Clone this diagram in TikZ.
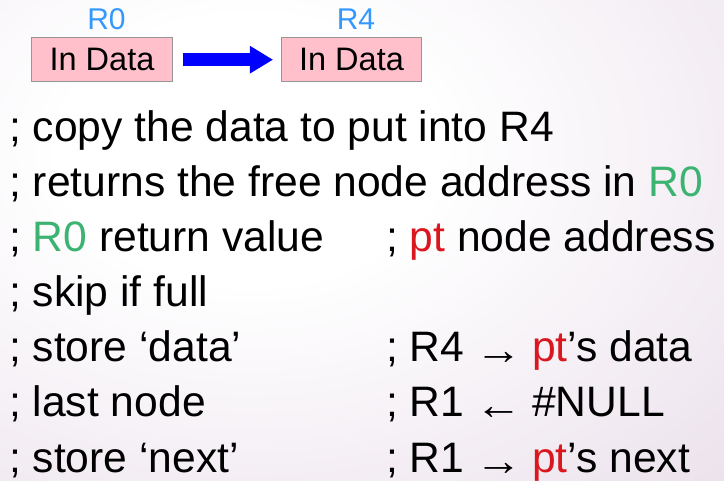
\documentclass[tikz,border=0pt]{standalone}
\usepackage{fontspec}
\setmainfont{Liberation Sans}
\usetikzlibrary{arrows.meta}
\definecolor{bgout}{RGB}{214,194,216}
\definecolor{lblue}{RGB}{51,153,255}
\definecolor{rgreen}{RGB}{60,179,113}
\definecolor{ptred}{RGB}{218,22,30}
\definecolor{boxpink}{RGB}{255,192,203}
\definecolor{boxedge}{RGB}{150,150,150}
\pgfdeclareradialshading{bgshade}{\pgfpoint{0bp}{0bp}}{color(0bp)=(white); color(4bp)=(white); color(25bp)=(bgout); color(50bp)=(bgout)}
\newcommand{\sarr}[1]{\hspace{11pt}\smash{\raisebox{-3pt}{\scalebox{1.1}[1]{#1}}}\hspace{10pt}}
\newcommand{\gR}{\textcolor{rgreen}{R0}}
\newcommand{\rpt}{\textcolor{ptred}{pt}}
\begin{document}
\begin{tikzpicture}[x=1pt,y=-1pt,
  codeline/.style={anchor=base west, inner sep=0pt, font=\fontsize{42.6}{50}\selectfont},
  databox/.style={draw=boxedge, line width=1pt, fill=boxpink, minimum width=140.5pt, minimum height=44pt, inner sep=0pt, font=\fontsize{32.5}{36}\selectfont},
  reglabel/.style={text=lblue, font=\fontsize{30}{32}\selectfont, inner sep=0pt, anchor=base},
  bigarrow/.style={draw={rgb,255:red,0;green,0;blue,255}, line width=13pt, -{Triangle[length=23pt,width=28pt,line width=0pt 0]}, shorten <=10.7pt, shorten >=8pt}]
\useasboundingbox (0,0) rectangle (724,481);
\begin{scope}
\clip (0,0) rectangle (724,481);
\shade[shading=bgshade] (250,150) ellipse (1200pt and 840pt);
\end{scope}
% top diagram
\node[databox] (b0) at (102,59.7) {In Data};
\node[databox] (b4) at (351.5,59.7) {In Data};
\node[reglabel] (l0) at (106.5,29.3) {R0};
\node[reglabel] (l4) at (356,29.3) {R4};
\draw[bigarrow] (b0) -- (b4);
% code lines
\node[codeline] (c1) at (9,141.5) {; copy the data to put into R4};
\node[codeline] (c2) at (9,196.6) {; returns the free node address in \gR};
\node[codeline] (c3) at (9,251.7) {; \gR{} return value};
\node[codeline] (c4) at (9,306.8) {; skip if full};
\node[codeline] (c5) at (9,361.9) {; store ‘data’};
\node[codeline] (c6) at (9,417) {; last node};
\node[codeline] (c7) at (9,472.1) {; store ‘next’};
\node[codeline] (d3) at (386,251.7) {; \rpt{} node address};
\node[codeline] (d5) at (386,361.9) {; R4\sarr{→}\rpt’s data};
\node[codeline] (d6) at (386,417) {; R1\sarr{←}\#NULL};
\node[codeline] (d7) at (386,472.1) {; R1\sarr{→}\rpt’s next};
\end{tikzpicture}
\end{document}
